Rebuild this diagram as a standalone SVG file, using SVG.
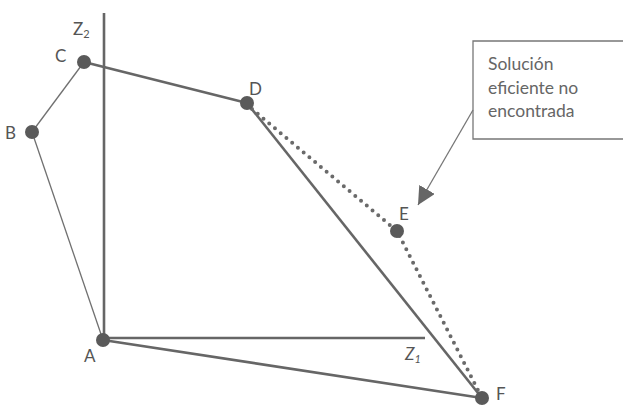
<svg xmlns="http://www.w3.org/2000/svg" width="623" height="405" viewBox="0 0 623 405">
<style>
.lbl{font-family:"Lato","Open Sans",sans-serif;font-size:17px;fill:#555}
.box{font-family:"Lato","Open Sans",sans-serif;font-size:17.5px;fill:#666}
.pt{fill:#5a5a5a}
.thin{stroke:#707070;stroke-width:1.3;fill:none}
.thick{stroke:#666;stroke-width:2.6;fill:none}
.axis{stroke:#666;stroke-width:2.6;fill:none}
.dot{stroke:#6a6a6a;stroke-width:4;stroke-linecap:round;stroke-dasharray:0 7.5;fill:none}
</style>
<defs>
<marker id="ah" viewBox="0 0 10 10" refX="10" refY="5" markerWidth="18" markerHeight="18" markerUnits="userSpaceOnUse" orient="auto">
<path d="M0,0 L10,5 L0,10 z" fill="#666"/>
</marker>
</defs>
<rect width="623" height="405" fill="#fff"/>
<g id="connectors">
<line class="axis" x1="104" y1="13" x2="104" y2="341"/>
<line class="axis" x1="103" y1="338" x2="425" y2="338"/>
<line class="thin" x1="103" y1="340" x2="32" y2="132"/>
<line class="thin" x1="32" y1="132" x2="84" y2="62"/>
<line class="thick" x1="84" y1="62" x2="247" y2="103"/>
<line class="thick" x1="247" y1="103" x2="482" y2="398"/>
<line class="thick" x1="103" y1="340" x2="482" y2="398"/>
<polyline class="dot" points="252,109 397,231 482,398"/>
<line stroke="#777" stroke-width="1.3" x1="473" y1="110" x2="418" y2="205" marker-end="url(#ah)"/>
</g>
<g id="callout">
<polyline points="630,41 473,41 473,139 630,139" fill="none" stroke="#777" stroke-width="1.3"/>
<text class="box" x="488" y="70">Solución</text>
<text class="box" x="488" y="94">eficiente no</text>
<text class="box" x="488" y="117">encontrada</text>
</g>
<g id="axis-z2"><text class="lbl" x="73" y="35">Z<tspan font-size="11" dy="3">2</tspan></text></g>
<g id="axis-z1"><text class="lbl" x="405" y="360" font-style="italic">Z<tspan font-size="11" dy="3">1</tspan></text></g>
<g id="A"><circle class="pt" cx="103" cy="340" r="7"/><text class="lbl" x="84" y="362">A</text></g>
<g id="B"><circle class="pt" cx="32" cy="132" r="7"/><text class="lbl" x="5" y="139">B</text></g>
<g id="C"><circle class="pt" cx="84" cy="62" r="7"/><text class="lbl" x="55" y="62">C</text></g>
<g id="D"><circle class="pt" cx="247" cy="103" r="7"/><text class="lbl" x="249" y="95">D</text></g>
<g id="E"><circle class="pt" cx="397" cy="231" r="7"/><text class="lbl" x="399" y="220">E</text></g>
<g id="F"><circle class="pt" cx="482" cy="398" r="7"/><text class="lbl" x="496" y="400">F</text></g>
</svg>
